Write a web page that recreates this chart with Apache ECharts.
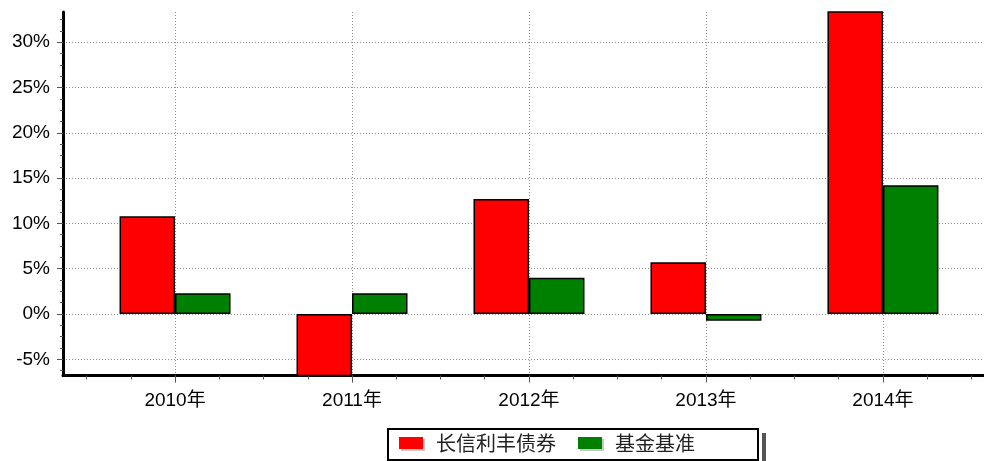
<!DOCTYPE html>
<html>
<head>
<meta charset="utf-8">
<script src="https://cdn.jsdelivr.net/npm/echarts@6/dist/echarts.min.js"></script>
<style>
html, body { margin: 0; padding: 0; background: #fff; }
#main { width: 984px; height: 461px; }
</style>
</head>
<body>
<div id="main"></div>
<script>
var years = ['2010年', '2011年', '2012年', '2013年', '2014年'];
var seriesNames = ['长信利丰债券', '基金基准'];
var fundValues = [10.8, -7.3, 12.7, 5.7, 36.0];
var benchValues = [2.3, 2.3, 4.0, -0.75, 14.2];
var yTicks = [-5, 0, 5, 10, 15, 20, 25, 30];

var xMin = -0.633, xMax = 4.571;
var yMin = -6.79, yMax = 33.33;

var xMajor = years.map(function (y, i) { return i; });
var xMinor = [];
for (var i = -0.5; i <= 4.5; i += 0.25) xMinor.push(i);
var yMinor = [];
for (var v = -6.25; v <= 32.5; v += 1.25) yMinor.push(v);

var labelFont = "'Liberation Sans', Arial, 'Noto Sans CJK SC', sans-serif";
var dotted = { color: '#8c8c8c', width: 1, type: [1, 2] };

var myChart = echarts.init(document.getElementById('main'));

var option = {
	animation: false,
	grid: [
		{ left: 63, top: 12, right: 0, bottom: 85.5 },
		{ left: 63, top: 12, right: 0, bottom: 85.5 }
	],
	// legend drop shadow (right side only)
	graphic: [
		{ type: 'rect', left: 762, top: 433, z: 1, shape: { width: 4, height: 30 }, style: { fill: '#555' } }
	],
	legend: {
		left: 388, top: 429,
		padding: [4, 63, 7, 11],
		itemWidth: 24, itemHeight: 12, itemGap: 22,
		icon: 'rect',
		borderColor: '#000', borderWidth: 2,
		backgroundColor: '#fff',
		z: 5,
		itemStyle: { borderWidth: 0, shadowColor: '#c8c8c8', shadowOffsetX: 2, shadowOffsetY: 2, shadowBlur: 0 },
		textStyle: { fontSize: 20, color: '#222', fontFamily: "'Noto Sans CJK SC', sans-serif", padding: [0, 0, 0, 8] },
		data: seriesNames
	},
	xAxis: [
		{
			type: 'value', gridIndex: 0, min: xMin, max: xMax, position: 'bottom',
			axisLine: { show: true, onZero: false, lineStyle: { color: '#000', width: 3 } },
			axisTick: { show: true, customValues: xMajor, length: 7, lineStyle: { color: '#555' } },
			axisLabel: {
				customValues: xMajor, margin: 16, fontSize: 19, color: '#000', fontFamily: labelFont,
				formatter: function (v) { return years[Math.round(v)]; }
			},
			splitLine: { show: true, lineStyle: dotted }
		},
		{
			type: 'value', gridIndex: 1, min: xMin, max: xMax, position: 'bottom',
			axisLine: { show: false, onZero: false },
			axisTick: { show: true, customValues: xMinor, length: 4, lineStyle: { color: '#555' } },
			axisLabel: { show: false },
			splitLine: { show: false }
		}
	],
	yAxis: [
		{
			type: 'value', gridIndex: 0, min: yMin, max: yMax, position: 'left',
			axisLine: { show: true, onZero: false, lineStyle: { color: '#000', width: 3 } },
			axisTick: { show: true, customValues: yTicks, length: 6, lineStyle: { color: '#555' } },
			axisLabel: {
				customValues: yTicks, margin: 13, fontSize: 19, color: '#000', fontFamily: labelFont,
				formatter: function (v) { return v + '%'; }
			},
			splitLine: { show: true, lineStyle: dotted }
		},
		{
			type: 'value', gridIndex: 1, min: yMin, max: yMax, position: 'left',
			axisLine: { show: false, onZero: false },
			axisTick: { show: true, customValues: yMinor, length: 3, lineStyle: { color: '#555' } },
			axisLabel: { show: false },
			splitLine: { show: false }
		}
	],
	series: [
		{
			name: seriesNames[0], type: 'bar', xAxisIndex: 0, yAxisIndex: 0,
			barWidth: 55.5, barGap: '0%',
			itemStyle: { color: '#ff0000', borderColor: '#000', borderWidth: 1.5 },
			data: fundValues.map(function (v, i) { return [i, v]; })
		},
		{
			name: seriesNames[1], type: 'bar', xAxisIndex: 0, yAxisIndex: 0,
			barWidth: 55.5, barGap: '0%',
			itemStyle: { color: '#008000', borderColor: '#000', borderWidth: 1.5 },
			data: benchValues.map(function (v, i) { return [i, v]; })
		}
	]
};

myChart.setOption(option);
</script>
</body>
</html>
